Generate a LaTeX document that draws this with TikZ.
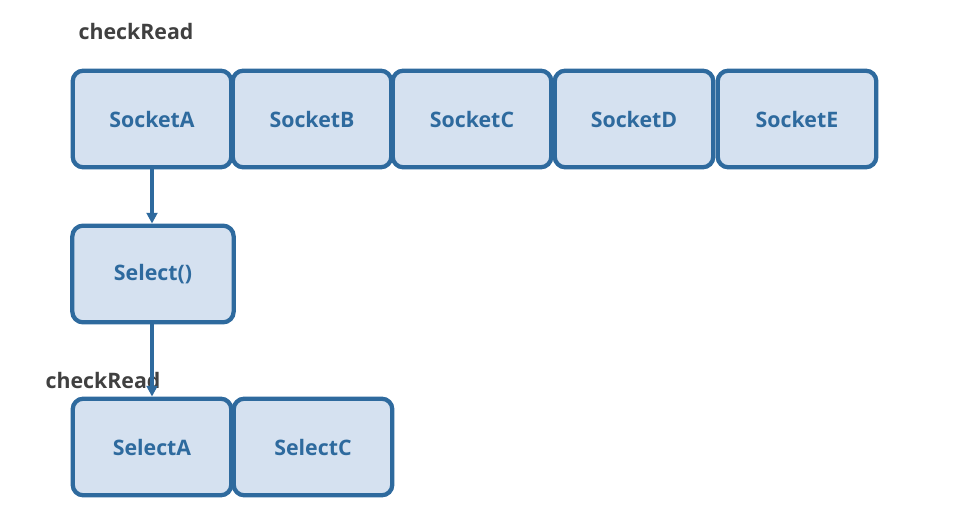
\documentclass[tikz,border=0pt]{standalone}
\usepackage{fontspec}
\setmainfont{Open Sans}
\usetikzlibrary{arrows.meta}
\definecolor{boxfill}{HTML}{D5E1F0}
\definecolor{boxline}{HTML}{2E6A9E}
\definecolor{labgray}{HTML}{404040}
\begin{document}
\begin{tikzpicture}[x=0.75pt,y=-0.75pt,
  box/.style={draw=boxline,fill=boxfill,line width=3.2pt,rounded corners=8pt,
    minimum width=119pt,minimum height=72.5pt,inner sep=0pt,
    text=boxline,font=\fontsize{16}{18}\selectfont\bfseries},
  lab/.style={text=labgray,font=\fontsize{16}{18}\selectfont\bfseries,inner sep=0pt},
  conn/.style={draw=boxline,line width=2.4pt,-{Triangle[length=8pt,width=8pt]}}]
\useasboundingbox (0,0) rectangle (963,517);
\node[lab] (chk1) at (136,32) {checkRead};
\node[box] (sa) at (152,119) {SocketA};
\node[box] (sb) at (312,119) {SocketB};
\node[box] (sc) at (472,119) {SocketC};
\node[box] (sd) at (634,119) {SocketD};
\node[box] (se) at (797,119) {SocketE};
\node[box,minimum width=121pt] (sel) at (153,274) {Select()};
\node[box] (xa) at (152,447) {SelectA};
\node[box] (xc) at (313,447) {SelectC};
\node[lab] (chk2) at (103,380) {checkRead};
\draw[conn] (sa.south) -- (sa.south |- sel.north);
\draw[conn] (sel.south -| sa.south) -- (xa.north);
\end{tikzpicture}
\end{document}
